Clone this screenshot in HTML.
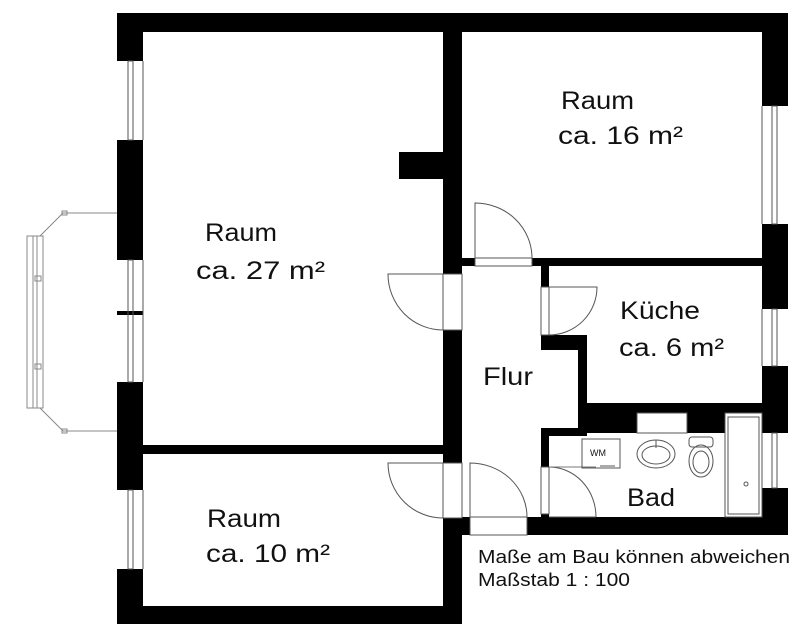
<!DOCTYPE html>
<html><head><meta charset="utf-8"><style>
html,body{margin:0;padding:0;background:#fff}
svg{display:block}
text{font-family:"Liberation Sans",Arial,sans-serif;fill:#111}
</style></head><body>
<svg width="800" height="634" viewBox="0 0 800 634" xmlns="http://www.w3.org/2000/svg">
<rect width="800" height="634" fill="#fff"/>
<g fill="#000">
<rect x="117" y="13" width="671" height="19"/>
<rect x="117" y="13" width="26" height="48"/>
<rect x="117" y="140" width="26" height="120"/>
<rect x="117" y="382" width="26" height="108"/>
<rect x="117" y="569" width="26" height="55"/>
<rect x="117" y="311" width="26" height="4"/>
<rect x="117" y="606" width="345" height="18"/>
<rect x="443" y="13" width="19" height="261"/>
<rect x="443" y="330" width="19" height="133"/>
<rect x="443" y="518" width="19" height="106"/>
<rect x="399" y="152" width="44" height="27"/>
<rect x="143" y="445" width="300" height="9"/>
<rect x="762" y="13" width="26" height="93"/>
<rect x="762" y="224" width="26" height="85"/>
<rect x="762" y="366" width="26" height="67"/>
<rect x="762" y="488" width="26" height="47"/>
<rect x="462" y="258" width="13" height="8"/>
<rect x="532" y="258" width="230" height="8"/>
<rect x="541" y="266" width="8" height="21"/>
<rect x="541" y="335" width="46" height="15"/>
<rect x="578" y="335" width="9" height="70"/>
<rect x="578" y="403" width="184" height="10"/>
<rect x="578" y="403" width="59" height="30"/>
<rect x="687" y="403" width="38" height="30"/>
<rect x="541" y="428" width="46" height="8"/>
<rect x="541" y="428" width="8" height="39"/>
<rect x="541" y="514" width="8" height="6"/>
<rect x="462" y="517" width="8" height="18"/>
<rect x="527" y="517" width="261" height="18"/>
</g>
<g fill="none" stroke="#555" stroke-width="1">
<rect x="128" y="61" width="5" height="79"/><rect x="128" y="260" width="5" height="122"/><rect x="128" y="490" width="5" height="79"/>
<line x1="143" y1="61" x2="143" y2="140"/><line x1="143" y1="260" x2="143" y2="382"/><line x1="143" y1="490" x2="143" y2="569"/>
<rect x="772" y="106" width="5" height="118"/><rect x="772" y="309" width="5" height="57"/><rect x="772" y="433" width="5" height="55"/>
<line x1="762" y1="106" x2="762" y2="224"/><line x1="762" y1="309" x2="762" y2="366"/><line x1="762" y1="433" x2="762" y2="488"/>
<polyline stroke="#888" points="117,213 63,213 40,236"/>
<polyline stroke="#888" points="117,431 63,431 40,408"/>
<rect x="27" y="236" width="16" height="172" stroke="#888"/>
<line x1="33" y1="236" x2="33" y2="408" stroke="#888"/><line x1="37" y1="236" x2="37" y2="408" stroke="#888"/>
<rect x="62" y="211" width="5" height="4" stroke="#888"/><rect x="62" y="429" width="5" height="4" stroke="#888"/>
<rect x="35" y="276" width="6" height="5" stroke="#888"/><rect x="35" y="364" width="6" height="5" stroke="#888"/>
<path d="M443,274 L388,274 A55,56 0 0 0 443,330"/>
<path d="M443,463 L388,463 A55,55 0 0 0 443,518"/>
<rect x="443" y="274" width="19" height="56"/><rect x="443" y="463" width="19" height="55"/>
<path d="M475,258 L475,203 A57,55 0 0 1 532,258"/>
<rect x="475" y="258" width="57" height="8"/>
<path d="M549,287 L597,287 A48,48 0 0 1 549,335"/>
<rect x="541" y="287" width="8" height="48"/>
<path d="M470,517 L470,463 A57,54 0 0 1 527,517"/>
<rect x="470" y="517" width="57" height="18"/>
<path d="M549,467 A47,50 0 0 1 596,517"/>
<line x1="549" y1="467" x2="596" y2="467" stroke="#777"/>
<rect x="541" y="467" width="8" height="47"/>
<line x1="549" y1="517" x2="596" y2="517"/>
<rect x="637" y="413" width="50" height="20"/>
<rect x="725" y="413" width="37" height="104"/><rect x="728" y="417" width="31" height="97"/>
<circle cx="746" cy="484" r="2"/>
<rect x="582" y="439" width="38" height="29"/>
<line x1="600" y1="466" x2="615" y2="466"/>
<ellipse cx="656" cy="454" rx="19" ry="14"/><ellipse cx="656" cy="455" rx="14" ry="9"/>
<line x1="656" y1="440" x2="656" y2="448"/>
<rect x="689" y="437" width="24" height="10" rx="3"/>
<ellipse cx="701" cy="461" rx="12" ry="16"/><ellipse cx="701" cy="462" rx="8" ry="11"/>
</g>
<text x="590" y="456" font-size="9" fill="#333">WM</text>
<g font-size="25">
<text x="205" y="241" textLength="72" lengthAdjust="spacingAndGlyphs">Raum</text>
<text x="196" y="279" textLength="129" lengthAdjust="spacingAndGlyphs">ca. 27 m²</text>
<text x="561" y="109" textLength="73" lengthAdjust="spacingAndGlyphs">Raum</text>
<text x="558" y="144" textLength="125" lengthAdjust="spacingAndGlyphs">ca. 16 m²</text>
<text x="620" y="319" textLength="80" lengthAdjust="spacingAndGlyphs">Küche</text>
<text x="619" y="356" textLength="105" lengthAdjust="spacingAndGlyphs">ca. 6 m²</text>
<text x="483" y="385" textLength="50" lengthAdjust="spacingAndGlyphs">Flur</text>
<text x="627" y="506" textLength="48" lengthAdjust="spacingAndGlyphs">Bad</text>
<text x="207" y="527" textLength="74" lengthAdjust="spacingAndGlyphs">Raum</text>
<text x="206" y="562" textLength="124" lengthAdjust="spacingAndGlyphs">ca. 10 m²</text>
</g>
<g font-size="18" fill="#222">
<text x="478" y="563" textLength="312" lengthAdjust="spacingAndGlyphs">Maße am Bau können abweichen</text>
<text x="478" y="586" textLength="152" lengthAdjust="spacingAndGlyphs">Maßstab 1 : 100</text>
</g>
</svg>
</body></html>
